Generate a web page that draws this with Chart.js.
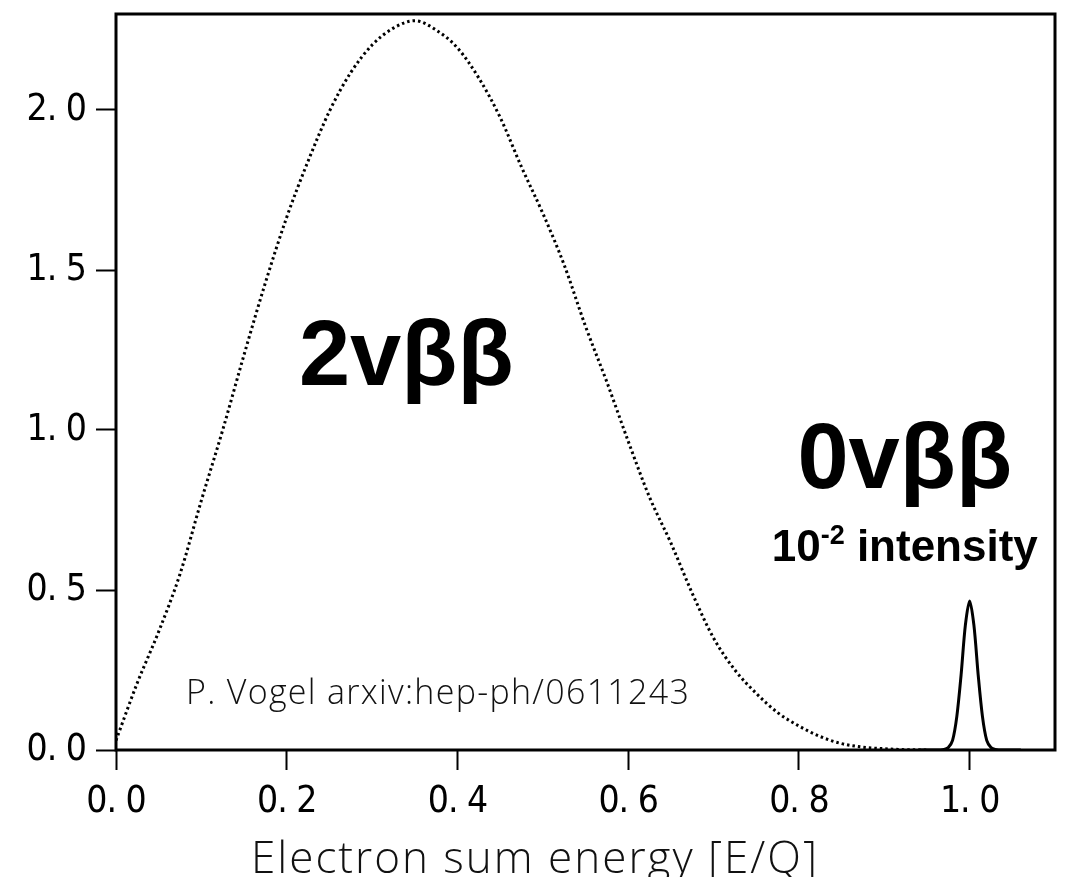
<!DOCTYPE html>
<html>
<head>
<meta charset="utf-8">
<script src="https://cdn.jsdelivr.net/npm/chart.js@4.4.1/dist/chart.umd.min.js"></script>
<style>
  html, body { margin: 0; padding: 0; background: #fff; }
  canvas { display: block; }
</style>
</head>
<body>
<canvas id="spectrum" width="1077" height="877"></canvas>
<script>
// 2 neutrino double beta spectrum (dotted)
const energy2nu = [0, 0.025, 0.05, 0.075, 0.1, 0.125, 0.15, 0.175, 0.2, 0.225, 0.25, 0.275, 0.3, 0.325, 0.35,
  0.375, 0.4, 0.425, 0.45, 0.475, 0.5, 0.525, 0.55, 0.575, 0.6, 0.625, 0.65, 0.675, 0.7, 0.725, 0.75,
  0.775, 0.8, 0.825, 0.85, 0.875, 0.9, 0.925, 0.95];
const rate2nu = [0.03, 0.21, 0.37, 0.55, 0.78, 1.0, 1.235, 1.46, 1.665, 1.84, 1.996, 2.117, 2.203, 2.256, 2.279,
  2.25, 2.194, 2.1, 1.977, 1.822, 1.677, 1.516, 1.324, 1.15, 0.965, 0.79, 0.647, 0.49, 0.35, 0.25, 0.177,
  0.117, 0.075, 0.042, 0.02, 0.009, 0.004, 0.001, 0];

// 0 neutrino peak at the endpoint (solid)
const energy0nu = [0.94, 0.96, 0.97, 0.975, 0.98, 0.985, 0.99, 0.995, 1.0, 1.005, 1.01, 1.015, 1.02, 1.025, 1.03, 1.04, 1.06];
const rate0nu = [0, 0, 0.002, 0.008, 0.03, 0.105, 0.235, 0.39, 0.466, 0.39, 0.235, 0.105, 0.03, 0.008, 0.002, 0, 0];

const xTicks = [0, 0.2, 0.4, 0.6, 0.8, 1.0];
const xTickLabels = ["0. 0", "0. 2", "0. 4", "0. 6", "0. 8", "1. 0"];
const yTicks = [0, 0.5, 1.0, 1.5, 2.0];
const yTickLabels = ["0. 0", "0. 5", "1. 0", "1. 5", "2. 0"];

const xTitle = "Electron sum energy [E/Q]";
const credit = "P. Vogel arxiv:hep-ph/0611243";

const tickFont = { family: "'DejaVu Sans Condensed', 'DejaVu Sans', sans-serif", size: 37 };
const lightFont = "300 {size}px 'Open Sans', Roboto, sans-serif";
const boldFont = "bold {size}px 'Liberation Sans', Arial, sans-serif";

function pts(xs, ys) { return xs.map((x, i) => ({ x: x, y: ys[i] })); }

// tick labels in the original are set tight
const tightTicks = {
  id: "tightTicks",
  beforeDraw(chart) { chart.ctx.letterSpacing = "-1px"; },
  beforeDatasetsDraw(chart) { chart.ctx.letterSpacing = "0px"; },
};

const frame = {
  id: "frame",
  afterDraw(chart) {
    const { ctx, chartArea: a, scales } = chart;
    const px = (v) => scales.x.getPixelForValue(v);
    const py = (v) => scales.y.getPixelForValue(v);
    ctx.save();
    ctx.letterSpacing = "0px";
    ctx.strokeStyle = "#000";
    ctx.lineWidth = 3;
    ctx.strokeRect(a.left, a.top, a.right - a.left, a.bottom - a.top);

    ctx.fillStyle = "#000";
    ctx.textBaseline = "alphabetic";

    // big labels
    ctx.textAlign = "center";
    ctx.font = boldFont.replace("{size}", 92);
    ctx.fillText("2vββ", px(0.34), py(1.14));
    ctx.fillText("0vββ", px(0.924), py(0.82));

    // 10^-2 intensity
    ctx.font = boldFont.replace("{size}", 44);
    const w10 = ctx.measureText("10").width;
    ctx.font = boldFont.replace("{size}", 27);
    const wExp = ctx.measureText("-2").width;
    ctx.font = boldFont.replace("{size}", 44);
    const wRest = ctx.measureText(" intensity").width;
    let x0 = px(0.924) - (w10 + wExp + wRest) / 2;
    const base = py(0.59);
    ctx.textAlign = "left";
    ctx.fillText("10", x0, base);
    ctx.font = boldFont.replace("{size}", 27);
    ctx.fillText("-2", x0 + w10, base - 17);
    ctx.font = boldFont.replace("{size}", 44);
    ctx.fillText(" intensity", x0 + w10 + wExp, base);

    // credit
    ctx.font = lightFont.replace("{size}", 34);
    ctx.letterSpacing = "1.3px";
    ctx.fillStyle = "#111";
    ctx.fillText(credit, px(0.082), py(0.144));

    // axis title
    ctx.textAlign = "center";
    ctx.font = lightFont.replace("{size}", 44);
    ctx.letterSpacing = "2px";
    ctx.fillText(xTitle, 535, 873);
    ctx.restore();
  }
};

new Chart(document.getElementById("spectrum"), {
  type: "line",
  data: {
    datasets: [
      {
        label: "2vββ",
        data: pts(energy2nu, rate2nu),
        borderColor: "#000",
        borderWidth: 3,
        borderDash: [2.5, 3],
        pointRadius: 0,
        cubicInterpolationMode: "monotone",
        fill: false,
      },
      {
        label: "0vββ",
        data: pts(energy0nu, rate0nu),
        borderColor: "#000",
        borderWidth: 3,
        pointRadius: 0,
        tension: 0.3,
        fill: false,
      },
    ],
  },
  options: {
    responsive: false,
    animation: false,
    devicePixelRatio: 1,
    layout: { padding: { top: 14, right: 22, left: 0, bottom: 0 } },
    plugins: { legend: { display: false }, tooltip: { enabled: false } },
    scales: {
      x: {
        type: "linear",
        min: 0,
        max: 1.1,
        afterBuildTicks: (s) => { s.ticks = xTicks.map((v) => ({ value: v })); },
        afterFit: (s) => { s.height = 127; s.paddingLeft = 0; s.paddingRight = 0; },
        grid: { drawOnChartArea: false, drawTicks: true, tickLength: 20, tickWidth: 2, tickColor: "#000" },
        border: { display: false },
        ticks: {
          color: "#000",
          font: tickFont,
          padding: 10,
          maxRotation: 0,
          callback: (v) => xTickLabels[xTicks.indexOf(v)],
        },
      },
      y: {
        type: "linear",
        min: 0,
        max: 2.3,
        afterBuildTicks: (s) => { s.ticks = yTicks.map((v) => ({ value: v })); },
        afterFit: (s) => { s.width = 116; s.paddingTop = 0; s.paddingBottom = 0; },
        grid: { drawOnChartArea: false, drawTicks: true, tickLength: 20, tickWidth: 2, tickColor: "#000" },
        border: { display: false },
        ticks: {
          color: "#000",
          font: tickFont,
          padding: 10,
          callback: (v) => yTickLabels[yTicks.indexOf(v)],
        },
      },
    },
  },
  plugins: [tightTicks, frame],
});
</script>
</body>
</html>
